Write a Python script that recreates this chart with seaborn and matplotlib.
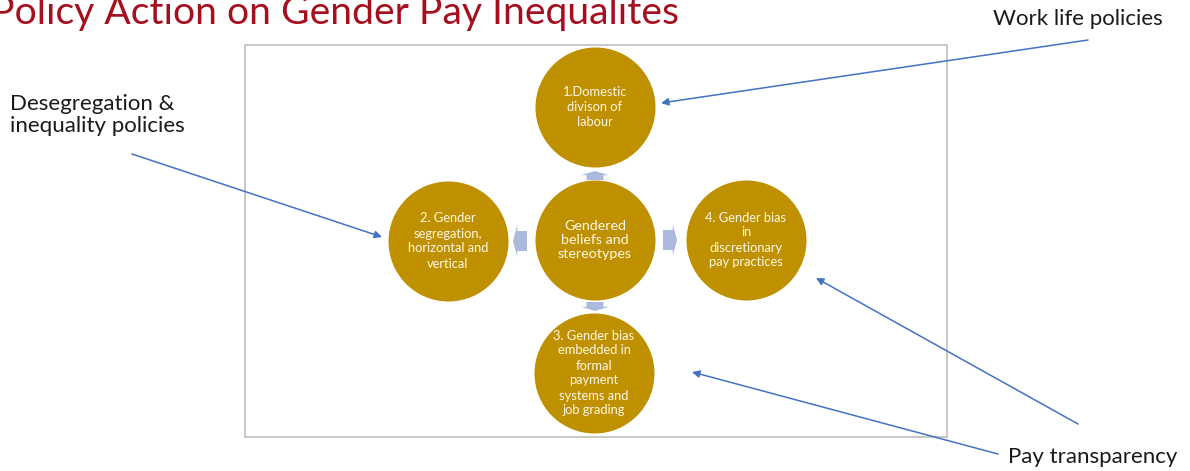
import numpy as np
import pandas as pd
import matplotlib.pyplot as plt
import matplotlib.patches as mpatches
import seaborn as sns

# =======================
# 1. Diagram content
# =======================
title = "Policy Action on Gender Pay Inequalites"

node_labels = [
    "Gendered\nbeliefs and\nstereotypes",
    "1.Domestic\ndivison of\nlabour",
    "2. Gender\nsegregation,\nhorizontal and\nvertical",
    "3. Gender bias\nembedded in\nformal\npayment\nsystems and\njob grading",
    "4. Gender bias\nin\ndiscretionary\npay practices",
]

policy_labels = ["Work life policies", "Desegregation &\ninequality policies", "Pay transparency"]

# =======================
# 2. Layout (pixel space, y down)
# =======================
node_x = [595, 595, 448, 594, 746]
node_y = [240, 107, 241, 373, 240]
node_fs = [10.3, 9.3, 9.3, 9.3, 9.3]

# small block arrows from the centre circle: x, y, dx, dy, body width, head width
block_arrows = [
    (595, 180, 0, -9, 17, 28),
    (595, 302, 0, 9, 17, 28),
    (527, 241, -14, 0, 20, 32),
    (663, 240, 14, 0, 20, 32),
]

# policy text anchors and their pointer lines (start, end)
policy_pos = [(993, 19), (10, 115), (1008, 457)]
pointers = [
    ((1088, 40), (661, 103)),
    ((132, 154), (382, 237)),
    ((1078, 424), (816, 278)),
    ((998, 454), (692, 372)),
]

gold = "#BF9000"
pale_blue = "#AAB9DC"
line_blue = "#4472C4"

# =======================
# 3. Draw
# =======================
sns.set_theme(style="white")
plt.rcParams["font.family"] = ["Lato", "DejaVu Sans"]

fig = plt.figure(figsize=(11.9, 4.71), dpi=100)
ax = fig.add_axes([0, 0, 1, 1])
ax.set_xlim(0, 1190)
ax.set_ylim(471, 0)
ax.axis("off")

# outer frame
ax.add_patch(mpatches.Rectangle((245, 45), 702, 392, fill=False,
                                edgecolor="#BFBFBF", linewidth=1.2))

# circles (radius 60 px -> marker diameter in points)
diam_pt = 120 * 72 / fig.dpi
nodes = pd.DataFrame({"x": node_x, "y": node_y, "label": node_labels})
sns.scatterplot(data=nodes, x="x", y="y", s=diam_pt ** 2, color=gold,
                linewidth=0, ax=ax, zorder=3, legend=False)
ax.set_xlim(0, 1190)
ax.set_ylim(471, 0)
ax.set_xlabel("")
ax.set_ylabel("")

for (x, y, lab, fs) in zip(node_x, node_y, node_labels, node_fs):
    ax.text(x, y, lab, ha="center", va="center", fontsize=fs, color="#FFF8E8",
            linespacing=1.3 if fs < 10 else 1.22, zorder=4)

for (x, y, dx, dy, w, hw) in block_arrows:
    ax.add_patch(mpatches.FancyArrow(x, y, dx, dy, width=w, head_width=hw,
                                     head_length=min(abs(dx) + abs(dy), 7) * 0.6,
                                     length_includes_head=True,
                                     color=pale_blue, linewidth=0, zorder=2))

# policy pointers
for (start, end) in pointers:
    ax.annotate("", xy=end, xytext=start,
                arrowprops=dict(arrowstyle="-|>", color=line_blue, lw=1.1,
                                mutation_scale=11, shrinkA=0, shrinkB=0),
                zorder=5)

for (x, y), lab in zip(policy_pos, policy_labels):
    ax.text(x, y, lab, ha="left", va="center", fontsize=16,
            color="#1A1A1A", linespacing=1.12)

ax.text(-9, 24, title, ha="left", va="baseline", fontsize=28.2, color="#A50F1E")

plt.savefig("out.png", dpi=100)
